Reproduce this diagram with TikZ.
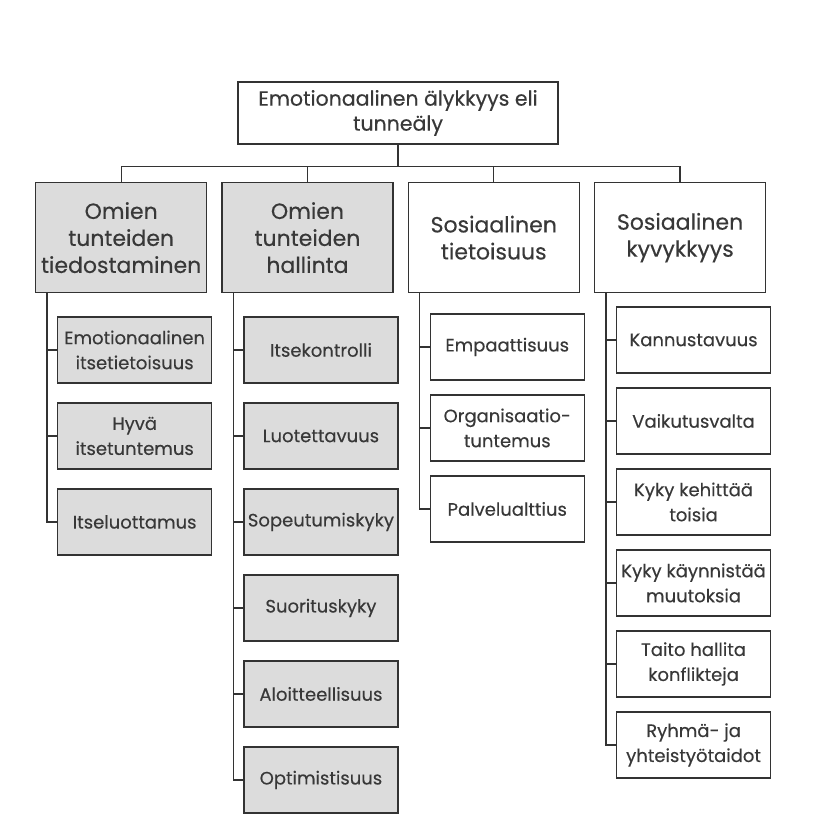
\documentclass[tikz,border=0pt]{standalone}
\usepackage{fontspec}
\setmainfont{Poppins}[UprightFeatures={FakeBold=0.3}]
\usetikzlibrary{positioning}
\definecolor{eqInk}{HTML}{383838}
\definecolor{eqLine}{HTML}{333333}
\definecolor{eqShade}{HTML}{DCDCDC}
\tikzset{
  every picture/.style={font=\fontsize{18}{25}\selectfont, text=eqInk},
  eq box/.style={draw=eqLine, line width=1.3pt, fill=white, align=center,
    inner xsep=2pt},
  eq top/.style={eq box, minimum width=320pt, minimum height=62pt,
    font=\fontsize{20.5}{25}\selectfont},
  eq main/.style={eq box, minimum width=171pt, minimum height=110pt,
    font=\fontsize{22}{27}\selectfont},
  eq leaf/.style={eq box, minimum width=154pt, minimum height=66pt},
  eq own/.style={fill=eqShade},
  eq link/.style={draw=eqLine, line width=1.3pt}
}

\begin{document}
\begin{tikzpicture}
  \useasboundingbox (0,0) rectangle (824pt,-832pt);
  \node[eq top] (ei) at (398pt,-113pt) {Emotionaalinen älykkyys eli\\tunneäly};
  \node[eq main, eq own, anchor=north west] (self) at (35pt,-182pt) {Omien\\tunteiden\\tiedostaminen};
  \node[eq main, eq own, right=14pt of self] (manage) {Omien\\tunteiden\\hallinta};
  \node[eq main, right=14pt of manage] (aware) {Sosiaalinen\\tietoisuus};
  \node[eq main, right=14pt of aware] (skill) {Sosiaalinen\\kyvykkyys};

  % own emotions
  \node[eq leaf, eq own, anchor=north west] (self1) at ([xshift=22pt,yshift=-23pt]self.south west) {Emotionaalinen\\itsetietoisuus};
  \node[eq leaf, eq own, below=18.7pt of self1] (self2) {Hyvä\\itsetuntemus};
  \node[eq leaf, eq own, below=18.7pt of self2] (self3) {Itseluottamus};

  \node[eq leaf, eq own, anchor=north west] (manage1) at ([xshift=22pt,yshift=-23pt]manage.south west) {Itsekontrolli};
  \node[eq leaf, eq own, below=18.7pt of manage1] (manage2) {Luotettavuus};
  \node[eq leaf, eq own, below=18.7pt of manage2] (manage3) {Sopeutumiskyky};
  \node[eq leaf, eq own, below=18.7pt of manage3] (manage4) {Suorituskyky};
  \node[eq leaf, eq own, below=18.7pt of manage4] (manage5) {Aloitteellisuus};
  \node[eq leaf, eq own, below=18.7pt of manage5] (manage6) {Optimistisuus};

  % social
  \node[eq leaf, anchor=north west] (aware1) at ([xshift=22pt,yshift=-20pt]aware.south west) {Empaattisuus};
  \node[eq leaf, below=13.7pt of aware1] (aware2) {Organisaatio-\\tuntemus};
  \node[eq leaf, below=13.7pt of aware2] (aware3) {Palvelualttius};

  \node[eq leaf, anchor=north west] (skill1) at ([xshift=22pt,yshift=-13pt]skill.south west) {Kannustavuus};
  \node[eq leaf, below=13.7pt of skill1] (skill2) {Vaikutusvalta};
  \node[eq leaf, below=13.7pt of skill2] (skill3) {Kyky kehittää\\toisia};
  \node[eq leaf, below=13.7pt of skill3] (skill4) {Kyky käynnistää\\muutoksia};
  \node[eq leaf, below=13.7pt of skill4] (skill5) {Taito hallita\\konflikteja};
  \node[eq leaf, below=13.7pt of skill5] (skill6) {Ryhmä- ja\\yhteistyötaidot};

  \draw[eq link] (ei.south) -- ++(0,-22pt) -| (self.north);
  \draw[eq link] (ei.south) -- ++(0,-22pt) -| (manage.north);
  \draw[eq link] (ei.south) -- ++(0,-22pt) -| (aware.north);
  \draw[eq link] (ei.south) -- ++(0,-22pt) -| (skill.north);

  \draw[eq link] ([xshift=12pt]self.south west) |- (self1.west)
    ([xshift=12pt]self.south west) |- (self2.west)
    ([xshift=12pt]self.south west) |- (self3.west);
  \draw[eq link] ([xshift=12pt]manage.south west) |- (manage1.west)
    ([xshift=12pt]manage.south west) |- (manage2.west)
    ([xshift=12pt]manage.south west) |- (manage3.west)
    ([xshift=12pt]manage.south west) |- (manage4.west)
    ([xshift=12pt]manage.south west) |- (manage5.west)
    ([xshift=12pt]manage.south west) |- (manage6.west);
  \draw[eq link] ([xshift=12pt]aware.south west) |- (aware1.west)
    ([xshift=12pt]aware.south west) |- (aware2.west)
    ([xshift=12pt]aware.south west) |- (aware3.west);
  \draw[eq link] ([xshift=12pt]skill.south west) |- (skill1.west)
    ([xshift=12pt]skill.south west) |- (skill2.west)
    ([xshift=12pt]skill.south west) |- (skill3.west)
    ([xshift=12pt]skill.south west) |- (skill4.west)
    ([xshift=12pt]skill.south west) |- (skill5.west)
    ([xshift=12pt]skill.south west) |- (skill6.west);
\end{tikzpicture}
\end{document}
